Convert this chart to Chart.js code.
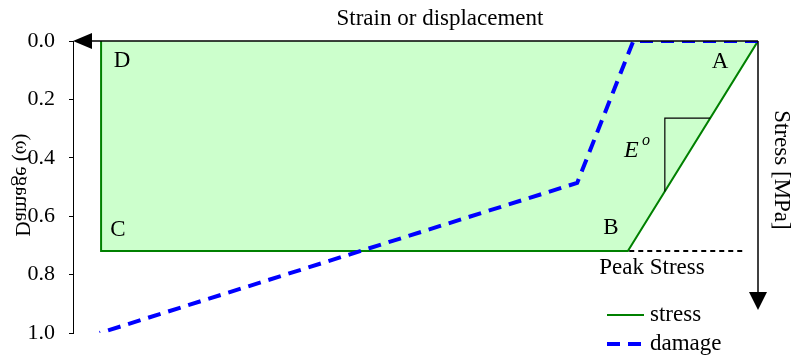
<!DOCTYPE html>
<html>
<head>
<meta charset="utf-8">
<script src="https://cdn.jsdelivr.net/npm/chart.js@4.4.0/dist/chart.umd.min.js"></script>
<style>
  html, body { margin: 0; padding: 0; background: #fff; }
  #wrap { width: 792px; height: 364px; }
</style>
</head>
<body>
<div id="wrap"><canvas id="chart"></canvas></div>
<script>
// strain runs right-to-left (0 at the right end of the top axis)
const stressStrain = [0, 0.19, 0.959, 0.959];
const stressValues = [0, 1, 1, 0];          // fraction of peak stress
const damageStrain = [0, 0.182, 0.264, 0.961];
const damageValues = [0, 0, 0.486, 1.0];
const peakStrain = [0.023, 0.19];
const peakValues = [1, 1];
const slopeStrain = [0.0697, 0.136, 0.136];
const slopeValues = [0.367, 0.367, 0.716];
const damageTicks = [0.0, 0.2, 0.4, 0.6, 0.8, 1.0];

const serif = '"Liberation Serif", "Times New Roman", serif';

function pts(xs, ys) {
    return xs.map((x, i) => ({ x: x, y: ys[i] }));
}

const decor = {
    id: 'decor',
    afterDraw(chart) {
        const ctx = chart.ctx;
        const a = chart.chartArea;
        ctx.save();
        ctx.fillStyle = '#000';
        ctx.strokeStyle = '#000';
        ctx.lineWidth = 1.5;

        // top strain axis with arrow pointing left
        ctx.beginPath();
        ctx.moveTo(a.left + 16, a.top);
        ctx.lineTo(a.right, a.top);
        ctx.stroke();
        ctx.beginPath();
        ctx.moveTo(a.left, a.top);
        ctx.lineTo(a.left + 19, a.top - 8);
        ctx.lineTo(a.left + 19, a.top + 8);
        ctx.closePath();
        ctx.fill();

        // right stress axis with arrow pointing down
        ctx.beginPath();
        ctx.moveTo(a.right, a.top);
        ctx.lineTo(a.right, a.bottom - 40);
        ctx.stroke();
        ctx.beginPath();
        ctx.moveTo(a.right, a.bottom - 23);
        ctx.lineTo(a.right - 9, a.bottom - 41);
        ctx.lineTo(a.right + 9, a.bottom - 41);
        ctx.closePath();
        ctx.fill();

        ctx.font = '23px ' + serif;
        ctx.textAlign = 'center';
        ctx.textBaseline = 'middle';
        ctx.fillText('Strain or displacement', 440, 19);

        // point labels
        ctx.fillText('A', 720, 62);
        ctx.fillText('B', 611, 228);
        ctx.fillText('C', 118, 230);
        ctx.fillText('D', 122, 61);
        ctx.fillText('Peak Stress', 652, 268);

        ctx.font = 'italic 24px ' + serif;
        ctx.textAlign = 'left';
        ctx.fillText('E', 624, 151);
        ctx.font = 'italic 16px ' + serif;
        ctx.fillText('o', 642, 141);

        // stress axis title
        ctx.save();
        ctx.translate(781, 170);
        ctx.rotate(Math.PI / 2);
        ctx.font = '23px ' + serif;
        ctx.textAlign = 'center';
        ctx.fillText('Stress [MPa]', 0, 0);
        ctx.restore();

        // damage axis title (mirrored as in the original)
        ctx.save();
        ctx.translate(22, 185);
        ctx.rotate(-Math.PI / 2);
        ctx.scale(1, -1);
        ctx.font = '21px ' + serif;
        ctx.textAlign = 'center';
        ctx.fillText('Damage (\u03c9)', 0, 0);
        ctx.restore();

        // legend
        const items = ['stress', 'damage'].map(l => chart.data.datasets.find(d => d.label === l));
        ctx.font = '23px ' + serif;
        ctx.textAlign = 'left';
        items.forEach((ds, i) => {
            const y = 315 + i * 29;
            ctx.beginPath();
            ctx.strokeStyle = ds.borderColor;
            ctx.lineWidth = ds.borderWidth;
            ctx.setLineDash(ds.borderDash || []);
            ctx.moveTo(607, y);
            ctx.lineTo(644, y);
            ctx.stroke();
            ctx.setLineDash([]);
            ctx.fillText(ds.label, 650, y);
        });
        ctx.restore();
    }
};

new Chart(document.getElementById('chart'), {
    type: 'line',
    data: {
        datasets: [
            {
                label: 'damage',
                data: pts(damageStrain, damageValues),
                yAxisID: 'y',
                borderColor: '#0000ff',
                borderWidth: 4,
                borderDash: [13, 8],
                pointRadius: 0,
                fill: false
            },
            {
                label: 'slope',
                data: pts(slopeStrain, slopeValues),
                yAxisID: 'yStress',
                borderColor: '#000',
                borderWidth: 1.2,
                pointRadius: 0,
                fill: false
            },
            {
                label: 'peak',
                data: pts(peakStrain, peakValues),
                yAxisID: 'yStress',
                borderColor: '#000',
                borderWidth: 2,
                borderDash: [5, 4],
                pointRadius: 0,
                fill: false
            },
            {
                label: 'stress',
                data: pts(stressStrain, stressValues),
                yAxisID: 'yStress',
                borderColor: '#008000',
                backgroundColor: '#ccffcc',
                borderWidth: 2,
                pointRadius: 0,
                fill: { value: 0 }
            }
        ]
    },
    options: {
        responsive: true,
        maintainAspectRatio: false,
        animation: false,
        layout: { padding: { left: 0, right: 34, top: 41, bottom: 31 } },
        plugins: {
            legend: { display: false },
            tooltip: { enabled: false }
        },
        scales: {
            x: {
                type: 'linear',
                reverse: true,
                min: 0,
                max: 1,
                display: false
            },
            y: {
                type: 'linear',
                reverse: true,
                min: 0,
                max: 1,
                afterBuildTicks: s => { s.ticks = damageTicks.map(v => ({ value: v })); },
                afterFit: s => { s.width = 73; },
                border: { display: true, color: '#000', width: 1 },
                grid: { drawOnChartArea: false, color: '#000', tickLength: 4 },
                ticks: {
                    color: '#000',
                    padding: 14,
                    font: { family: serif, size: 22 },
                    callback: v => v.toFixed(1)
                }
            },
            yStress: {
                type: 'linear',
                reverse: true,
                min: 0,
                max: 1.39,
                display: false
            }
        }
    },
    plugins: [decor]
});
</script>
</body>
</html>
